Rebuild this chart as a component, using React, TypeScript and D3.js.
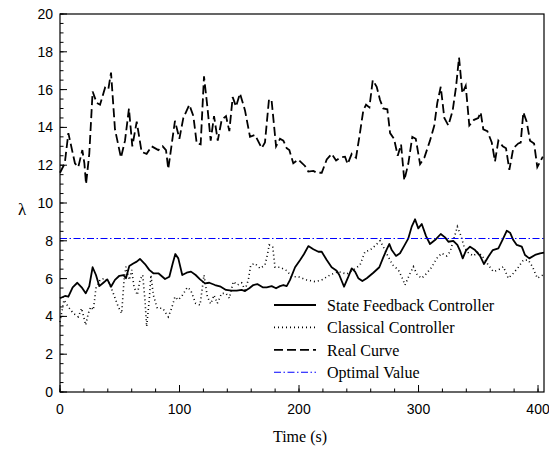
import * as d3 from 'd3';

// Real curve (dashed)
const realTime = [0, 4, 7, 12.5, 15.3, 18.7, 20.4, 21.8, 24.5, 27.3, 30.7, 33.5, 37.7, 40.4, 42.7, 46, 51, 54.4, 57.7, 60.5, 64.2, 68.3, 72.5, 76.7, 82.3, 85.9, 88.7, 90.6, 96.2, 99.9, 103.2, 108.2, 111.6, 114.4, 117.7, 120.5, 123.3, 126.1, 128.9, 132, 135.3, 138.9, 141.7, 144.5, 147.3, 150.6, 154.8, 159, 163.2, 168.8, 171.5, 174.9, 177.1, 180.8, 184.1, 186.9, 189.7, 191.9, 195.2, 199.4, 205, 207.8, 212, 214.8, 219, 223.2, 227.3, 231, 234.3, 238.5, 240.7, 244.1, 247.7, 250.5, 253.8, 256.1, 258.9, 261.7, 265, 267.8, 270.5, 273.9, 276.2, 279.5, 282.6, 285.4, 288.1, 291.5, 294.8, 297.7, 301.3, 304.9, 309.6, 313.2, 315.7, 318.6, 321.6, 325, 328.6, 331.4, 333.9, 336.7, 339.5, 342.5, 346.4, 350, 352, 354.2, 357.6, 361.3, 364, 366.8, 370.5, 373.2, 376, 379.3, 383.5, 385.5, 387.7, 390.5, 393.3, 396.7, 399.4, 404];
const realLambda = [11.6, 12.1, 13.7, 12.1, 11.9, 12.8, 12.1, 11.0, 12.6, 15.9, 15.3, 15.2, 16.1, 16.0, 16.9, 13.9, 12.4, 13.3, 15.0, 13.0, 14.3, 12.7, 12.6, 13.0, 12.8, 13.0, 12.8, 11.8, 14.35, 13.4, 14.5, 15.2, 14.6, 13.15, 13.1, 16.7, 15.1, 13.3, 14.6, 13.3, 14.4, 14.6, 13.8, 15.6, 15.1, 15.8, 14.9, 13.5, 13.6, 12.9, 13.2, 15.5, 15.4, 13.0, 13.4, 13.3, 12.9, 12.8, 12.1, 12.3, 11.96, 11.66, 11.7, 11.6, 11.6, 12.3, 12.6, 12.25, 12.4, 12.45, 12.06, 12.6, 12.4, 13.5, 14.9, 15.2, 15.06, 16.5, 16.15, 15.45, 15.0, 14.96, 13.7, 13.4, 12.5, 13.1, 11.2, 12.1, 13.5, 13.4, 12.06, 12.4, 13.3, 14.1, 15.3, 16.15, 14.5, 14.1, 14.9, 16.15, 17.7, 15.8, 16.2, 14.1, 14.4, 14.5, 14.8, 13.9, 13.8, 13.2, 12.2, 13.3, 13.0, 12.9, 11.75, 12.9, 13.15, 13.2, 14.8, 14.3, 13.3, 13.15, 11.9, 12.45];

// State feedback controller (solid)
const sfcTime = [0, 4.2, 7, 10.6, 14.5, 18.1, 21.5, 24.5, 27.3, 30.1, 32.9, 36.3, 39.6, 42.7, 46, 49.7, 53, 55.2, 58, 61.3, 64.2, 66.9, 71.1, 74.7, 78.1, 82.3, 87.9, 91.5, 94.3, 96.5, 99, 102.3, 106, 109.6, 113.5, 117.2, 121.3, 124.9, 129.7, 134.5, 138.9, 143.7, 147.9, 152, 154.8, 158.4, 161.8, 165.1, 169.6, 173, 177.1, 180.8, 184.1, 186.9, 189.7, 192.5, 196.7, 200.8, 204.2, 207.8, 212, 216.2, 219, 223.2, 227.3, 231.5, 233.7, 237.7, 241.3, 244.1, 246.9, 249.6, 253, 256.7, 262.2, 267.2, 270.5, 273.4, 275.6, 277.6, 281.2, 284.5, 287.9, 291.5, 294.3, 297.1, 299.8, 302.7, 306.3, 309.6, 313.8, 318.6, 322.2, 325, 329.1, 332.5, 334.7, 337, 339.7, 343.1, 347.3, 351.5, 354.8, 358.4, 362.2, 366.8, 370.5, 373.8, 376.6, 379.3, 382.2, 386.4, 389.1, 392.7, 397.5, 401.7, 405];
const sfcLambda = [4.96, 5.08, 5.04, 5.54, 5.78, 5.54, 5.22, 5.6, 6.6, 6.19, 5.6, 5.78, 5.96, 5.57, 5.93, 6.15, 6.19, 6.02, 6.67, 6.8, 6.9, 7.04, 6.77, 6.46, 6.28, 6.28, 5.98, 6.1, 6.8, 7.3, 7.07, 6.19, 6.31, 6.37, 6.19, 5.96, 5.75, 5.78, 5.66, 5.57, 5.4, 5.36, 5.36, 5.4, 5.34, 5.49, 5.66, 5.71, 5.54, 5.54, 5.6, 5.49, 5.6, 5.66, 5.6, 5.93, 6.6, 6.97, 7.3, 7.72, 7.55, 7.42, 7.42, 6.98, 6.6, 6.42, 6.19, 5.57, 6.1, 6.54, 6.37, 6.02, 5.87, 6.02, 6.31, 6.6, 7.12, 7.55, 7.83, 7.51, 7.2, 7.34, 7.72, 8.13, 8.75, 9.14, 8.66, 8.89, 8.25, 7.83, 8.04, 8.36, 8.18, 7.95, 8.0, 7.78, 7.48, 7.07, 7.48, 7.69, 7.51, 7.2, 6.77, 7.16, 7.51, 7.6, 8.08, 8.53, 8.43, 8.04, 7.78, 7.69, 7.25, 7.07, 7.25, 7.34, 7.37];

// Classical controller (dotted)
const ccTime = [0, 3.3, 7, 11.2, 15.3, 18.1, 21.5, 23.7, 25.7, 27.9, 30.1, 33.5, 37.7, 41.3, 44.6, 48.8, 51.6, 53.6, 55.2, 58, 60, 61.9, 64.7, 66.9, 69.2, 71.1, 72.5, 74.7, 76.1, 78.1, 81.4, 85.9, 90.6, 93.4, 96.2, 99, 102.6, 106.5, 109.3, 113.5, 117.2, 120.5, 123.3, 126.1, 128.9, 131.6, 135.3, 138.9, 141.7, 145, 148.4, 152, 154.8, 157.6, 159.6, 163.2, 167.4, 171.5, 173.5, 175.1, 178, 179.9, 184.1, 189.7, 193.9, 199.4, 206.4, 213.4, 219, 225.9, 232.9, 239.9, 245.5, 251.1, 255.2, 259.4, 264.4, 267.8, 270.5, 273.9, 278.4, 283.1, 285.9, 288.7, 292.3, 295.7, 299, 302.7, 306.9, 311, 315.2, 319.4, 323.6, 326.4, 329.7, 332.5, 335.3, 338.1, 341.7, 345.9, 350, 353.7, 358.4, 362.6, 366.8, 371, 375.1, 379.3, 383.5, 387.7, 391.9, 395.6, 399.4, 404];
const ccLambda = [3.7, 4.87, 4.5, 4.16, 3.98, 4.43, 3.54, 4.16, 4.5, 4.34, 5.49, 5.93, 6.02, 5.75, 5.22, 4.5, 4.16, 5.93, 6.63, 5.93, 6.46, 5.57, 5.13, 5.93, 6.19, 4.87, 3.46, 4.87, 6.19, 5.13, 4.43, 4.43, 3.98, 4.43, 5.04, 4.87, 5.13, 5.54, 5.4, 4.69, 4.6, 6.19, 5.04, 4.66, 5.13, 4.69, 5.22, 5.22, 4.96, 5.84, 5.66, 5.78, 5.4, 5.93, 6.72, 6.8, 6.54, 6.72, 7.25, 7.78, 7.69, 6.6, 6.6, 6.42, 6.1, 6.1, 5.93, 5.84, 5.93, 6.19, 6.37, 6.24, 6.46, 6.72, 7.42, 7.51, 7.78, 8.0, 7.69, 7.25, 6.72, 6.46, 6.1, 5.66, 6.19, 6.63, 6.19, 6.02, 6.28, 6.6, 7.07, 7.34, 7.2, 7.42, 8.13, 8.75, 8.3, 7.69, 7.37, 7.2, 7.42, 7.16, 6.72, 6.37, 6.46, 6.63, 6.02, 6.28, 6.6, 6.98, 6.98, 6.6, 6.02, 6.19];

const optimalValue = 8.12;

const xTickValues = [0, 100, 200, 300, 400];
const yTickValues = [0, 2, 4, 6, 8, 10, 12, 14, 16, 18, 20];

const legendLabels = ['State Feedback Controller', 'Classical Controller', 'Real Curve', 'Optimal Value'];

const W = 549;
const H = 452;
const margin = { left: 60, right: 5, top: 14, bottom: 60 };

export default function App() {
  const x = d3.scaleLinear().domain([0, 405]).range([margin.left, W - margin.right]);
  const y = d3.scaleLinear().domain([0, 20]).range([H - margin.bottom, margin.top]);

  const toPts = (t: number[], v: number[]) => t.map((tt, i) => [tt, v[i]] as [number, number]);
  const line = d3
    .line<[number, number]>()
    .x((d) => x(d[0]))
    .y((d) => y(d[1]));

  const xMinor = x.ticks(20);
  const yMinor = y.ticks(40);
  const x0 = x.range()[0];
  const x1 = x.range()[1];
  const y0 = y.range()[0];
  const y1 = y.range()[1];

  const serif = '"Liberation Serif", "Times New Roman", serif';
  const sans = '"Liberation Sans", Arial, sans-serif';

  const styles = [
    { stroke: '#000', width: 1.8, dash: 'none' },
    { stroke: '#000', width: 1.6, dash: '1,3' },
    { stroke: '#000', width: 1.8, dash: '9,4' },
    { stroke: '#0000ff', width: 1.1, dash: '7,2.5,1.5,2.5' },
  ];

  return (
    <svg
      width={W}
      height={H}
      style={{ position: 'absolute', left: 0, top: 0, background: '#fff' }}
    >
      <rect x={0} y={0} width={W} height={H} fill="#fff" />

      {/* data lines */}
      <path d={line(toPts(realTime, realLambda)) || ''} fill="none" stroke="#000" strokeWidth={1.8} strokeDasharray="9,4" />
      <path d={line(toPts(ccTime, ccLambda)) || ''} fill="none" stroke="#000" strokeWidth={1.6} strokeDasharray="1,3" />
      <path d={line(toPts(sfcTime, sfcLambda)) || ''} fill="none" stroke="#000" strokeWidth={1.8} strokeLinejoin="round" />
      <line x1={x0} x2={x1} y1={y(optimalValue)} y2={y(optimalValue)} stroke="#0000ff" strokeWidth={1.1} strokeDasharray="7,2.5,1.5,2.5" />

      {/* minor ticks */}
      {xMinor.map((t) => (
        <line key={'xm' + t} x1={x(t)} x2={x(t)} y1={y0} y2={y0 - 3.5} stroke="#000" strokeWidth={1} />
      ))}
      {yMinor.map((t) => (
        <line key={'ym' + t} x1={x0} x2={x0 + 3.5} y1={y(t)} y2={y(t)} stroke="#000" strokeWidth={1} />
      ))}
      {/* major ticks + labels */}
      {xTickValues.map((t) => (
        <g key={'x' + t}>
          <line x1={x(t)} x2={x(t)} y1={y0} y2={y0 - 7} stroke="#000" strokeWidth={1} />
          <text x={x(t)} y={y0 + 22} textAnchor="middle" fontFamily={sans} fontSize={14} fill="#000">
            {t}
          </text>
        </g>
      ))}
      {yTickValues.map((t) => (
        <g key={'y' + t}>
          <line x1={x0} x2={x0 + 7} y1={y(t)} y2={y(t)} stroke="#000" strokeWidth={1} />
          <text x={x0 - 7} y={y(t) + 5} textAnchor="end" fontFamily={sans} fontSize={14} fill="#000">
            {t}
          </text>
        </g>
      ))}

      {/* frame */}
      <rect x={x0} y={y1} width={x1 - x0} height={y0 - y1} fill="none" stroke="#000" strokeWidth={1.2} />

      {/* axis titles */}
      <text x={300} y={442} textAnchor="middle" fontFamily={serif} fontSize={16} fill="#000">
        Time (s)
      </text>
      <text x={22} y={215} textAnchor="middle" fontFamily={serif} fontSize={17} fill="#000">
        λ
      </text>

      {/* legend */}
      {legendLabels.map((lab, i) => {
        const by = 311 + i * 22.4;
        const s = styles[i];
        return (
          <g key={lab}>
            <line x1={274} x2={316} y1={by - 6} y2={by - 6} stroke={s.stroke} strokeWidth={s.width} strokeDasharray={s.dash} />
            <text x={327} y={by} fontFamily={serif} fontSize={16} fill="#000">
              {lab}
            </text>
          </g>
        );
      })}
    </svg>
  );
}
